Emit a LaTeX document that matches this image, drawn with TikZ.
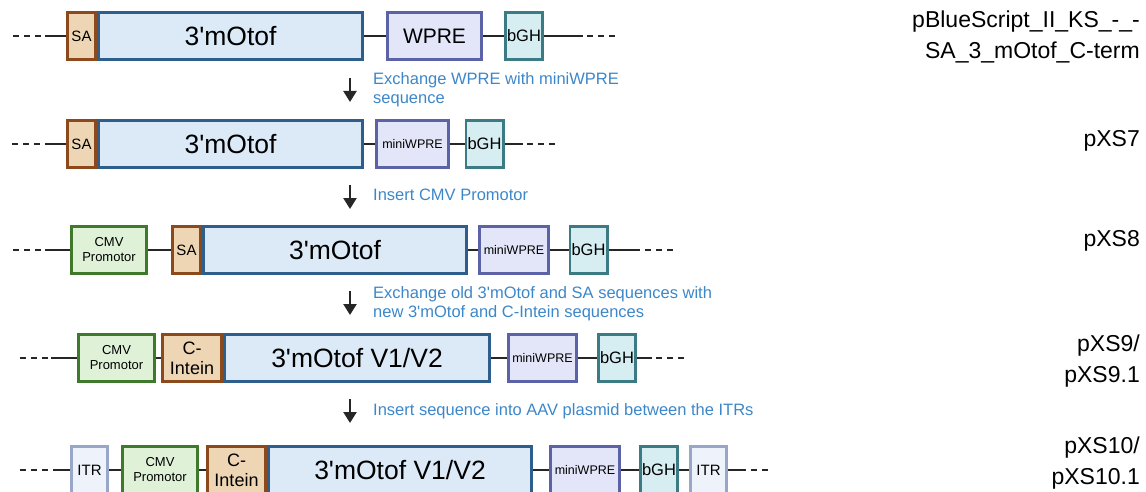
\documentclass[tikz,border=0pt]{standalone}
\usepackage{fontspec}
\setmainfont{Liberation Sans}
\usetikzlibrary{arrows.meta}
\definecolor{saF}{HTML}{EED6B4}
\definecolor{saR}{HTML}{8C4A1C}
\definecolor{otF}{HTML}{DCEAF8}
\definecolor{otR}{HTML}{2E5E8C}
\definecolor{wpF}{HTML}{E2E6F8}
\definecolor{wpR}{HTML}{5B62A6}
\definecolor{bgF}{HTML}{D6EEF2}
\definecolor{bgR}{HTML}{3B7B84}
\definecolor{cmF}{HTML}{DFF2D8}
\definecolor{cmR}{HTML}{3F7A2C}
\definecolor{itF}{HTML}{EEF2FA}
\definecolor{itR}{HTML}{98A6C8}
\definecolor{blau}{HTML}{3C87C9}
\definecolor{strich}{HTML}{262626}
\newcommand{\apo}{\textquotesingle}
\tikzset{
  baustein/.style={draw,line width=2.8pt,minimum height=47.2pt,inner sep=0pt,align=center,text=black},
  sa/.style={baustein,fill=saF,draw=saR,font=\fontsize{15}{17}\selectfont},
  intein/.style={baustein,fill=saF,draw=saR,font=\fontsize{18}{20}\selectfont},
  otof/.style={baustein,fill=otF,draw=otR,font=\fontsize{26.5}{30}\selectfont},
  wpre/.style={baustein,fill=wpF,draw=wpR,font=\fontsize{21}{24}\selectfont},
  miniwpre/.style={baustein,fill=wpF,draw=wpR,font=\fontsize{12.5}{14}\selectfont},
  bgh/.style={baustein,fill=bgF,draw=bgR,font=\fontsize{16.5}{18}\selectfont},
  cmv/.style={baustein,fill=cmF,draw=cmR,font=\fontsize{13}{15}\selectfont},
  itr/.style={baustein,fill=itF,draw=itR,font=\fontsize{15}{17}\selectfont},
  linie/.style={strich,line width=2.6pt},
  rest/.style={strich,line width=2.6pt,dash pattern=on 6pt off 5pt},
  pfeil/.style={-{Triangle[length=11pt,width=13pt]},strich,line width=2.4pt},
  notiz/.style={anchor=west,align=left,inner sep=0pt,text=blau,font=\fontsize{16.5}{19}\selectfont},
  plasmid/.style={anchor=east,align=right,inner sep=0pt,font=\fontsize{23}{31}\selectfont},
}

\begin{document}
\begin{tikzpicture}[x=1pt,y=-1pt]
  \useasboundingbox (0,0) rectangle (1146,492);
  % pBlueScript
  \coordinate (z1) at (13,36); \coordinate (a1) at (45,36);
  \node[sa,minimum width=28.2] (sa1) at (81.5,36) {SA};
  \node[otof,minimum width=264.2] (ot1) at (230.5,36) {3\apo mOtof};
  \node[wpre,minimum width=94.2] (wp1) at (434.5,36) {WPRE};
  \node[bgh,minimum width=37.2] (bg1) at (524,36) {bGH};
  \coordinate (b1) at (583,36); \coordinate (c1) at (587,36); \coordinate (d1) at (615,36);
  \draw[rest] (z1) -- (a1);
  \draw[linie] (a1) -- (sa1);
  \draw[linie] (ot1) -- (wp1);
  \draw[linie] (wp1) -- (bg1);
  \draw[linie] (bg1) -- (b1);
  \draw[rest] (c1) -- (d1);
  \node[plasmid] (p1) at (1140,37) {pBlueScript\_II\_KS\_-\_-\\SA\_3\_mOtof\_C-term};
  \coordinate (s1) at (350,78); \coordinate (t1) at (350,102);
  \draw[pfeil] (s1) -- (t1);
  \node[notiz] (n1) at (373,90) {Exchange WPRE with miniWPRE\\sequence};
  % pXS7
  \coordinate (z2) at (12,144); \coordinate (a2) at (45,144);
  \node[sa,minimum width=28.2] (sa2) at (81.5,144) {SA};
  \node[otof,minimum width=264.2] (ot2) at (230.5,144) {3\apo mOtof};
  \node[miniwpre,minimum width=72.2] (wp2) at (412.5,144) {miniWPRE};
  \node[bgh,minimum width=37.2] (bg2) at (484.5,144) {bGH};
  \coordinate (b2) at (523,144); \coordinate (c2) at (527,144); \coordinate (d2) at (555,144);
  \draw[rest] (z2) -- (a2);
  \draw[linie] (a2) -- (sa2);
  \draw[linie] (ot2) -- (wp2);
  \draw[linie] (wp2) -- (bg2);
  \draw[linie] (bg2) -- (b2);
  \draw[rest] (c2) -- (d2);
  \node[plasmid] (p2) at (1140,141) {pXS7};
  \coordinate (s2) at (350,185); \coordinate (t2) at (350,209);
  \draw[pfeil] (s2) -- (t2);
  \node[notiz] (n2) at (373,195) {Insert CMV Promotor};
  % pXS8
  \coordinate (z3) at (13,250); \coordinate (a3) at (45,250);
  \node[cmv,minimum width=75.2] (cm3) at (109,250) {CMV\\Promotor};
  \node[sa,minimum width=28.2] (sa3) at (186.5,250) {SA};
  \node[otof,minimum width=263.2] (ot3) at (335,250) {3\apo mOtof};
  \node[miniwpre,minimum width=69.2] (wp3) at (514,250) {miniWPRE};
  \node[bgh,minimum width=37.2] (bg3) at (588.5,250) {bGH};
  \coordinate (b3) at (640,250); \coordinate (c3) at (645,250); \coordinate (d3) at (673,250);
  \draw[rest] (z3) -- (a3);
  \draw[linie] (a3) -- (cm3);
  \draw[linie] (cm3) -- (sa3);
  \draw[linie] (ot3) -- (wp3);
  \draw[linie] (wp3) -- (bg3);
  \draw[linie] (bg3) -- (b3);
  \draw[rest] (c3) -- (d3);
  \node[plasmid] (p3) at (1140,241) {pXS8};
  \coordinate (s3) at (350,291); \coordinate (t3) at (350,315);
  \draw[pfeil] (s3) -- (t3);
  \node[notiz] (n3) at (373,304) {Exchange old 3\apo mOtof and SA sequences with\\new 3\apo mOtof and C-Intein sequences};
  % pXS9
  \coordinate (z4) at (20,358); \coordinate (a4) at (51,358);
  \node[cmv,minimum width=76.2] (cm4) at (116.5,358) {CMV\\Promotor};
  \node[intein,minimum width=59.2] (ci4) at (192,358) {C-\\Intein};
  \node[otof,minimum width=265.2] (ot4) at (357,358) {3\apo mOtof V1/V2};
  \node[miniwpre,minimum width=68.2] (wp4) at (542.5,358) {miniWPRE};
  \node[bgh,minimum width=37.2] (bg4) at (617,358) {bGH};
  \coordinate (b4) at (652,358); \coordinate (c4) at (656,358); \coordinate (d4) at (684,358);
  \draw[rest] (z4) -- (a4);
  \draw[linie] (a4) -- (cm4);
  \draw[linie] (cm4) -- (ci4);
  \draw[linie] (ot4) -- (wp4);
  \draw[linie] (wp4) -- (bg4);
  \draw[linie] (bg4) -- (b4);
  \draw[rest] (c4) -- (d4);
  \node[plasmid] (p4) at (1140,361) {pXS9/\\pXS9.1};
  \coordinate (s4) at (350,399); \coordinate (t4) at (350,423);
  \draw[pfeil] (s4) -- (t4);
  \node[notiz] (n4) at (373,411) {Insert sequence into AAV plasmid between the ITRs};
  % pXS10
  \coordinate (z5) at (20,470); \coordinate (a5) at (53,470);
  \node[itr,minimum width=36.2] (it5) at (89.5,470) {ITR};
  \node[cmv,minimum width=75.2] (cm5) at (160,470) {CMV\\Promotor};
  \node[intein,minimum width=58.2] (ci5) at (236.5,470) {C-\\Intein};
  \node[otof,minimum width=263.2] (ot5) at (400,470) {3\apo mOtof V1/V2};
  \node[miniwpre,minimum width=69.2] (wp5) at (585,470) {miniWPRE};
  \node[bgh,minimum width=37.2] (bg5) at (659,470) {bGH};
  \node[itr,minimum width=36.2] (jt5) at (708.5,470) {ITR};
  \coordinate (c5) at (740,470); \coordinate (d5) at (768,470);
  \draw[rest] (z5) -- (a5);
  \draw[linie] (a5) -- (it5);
  \draw[linie] (it5) -- (cm5);
  \draw[linie] (cm5) -- (ci5);
  \draw[linie] (ot5) -- (wp5);
  \draw[linie] (wp5) -- (bg5);
  \draw[linie] (bg5) -- (jt5);
  \draw[linie] (jt5) -- (c5);
  \draw[rest] (c5) -- (d5);
  \node[plasmid] (p5) at (1140,463) {pXS10/\\pXS10.1};
\end{tikzpicture}
\end{document}
